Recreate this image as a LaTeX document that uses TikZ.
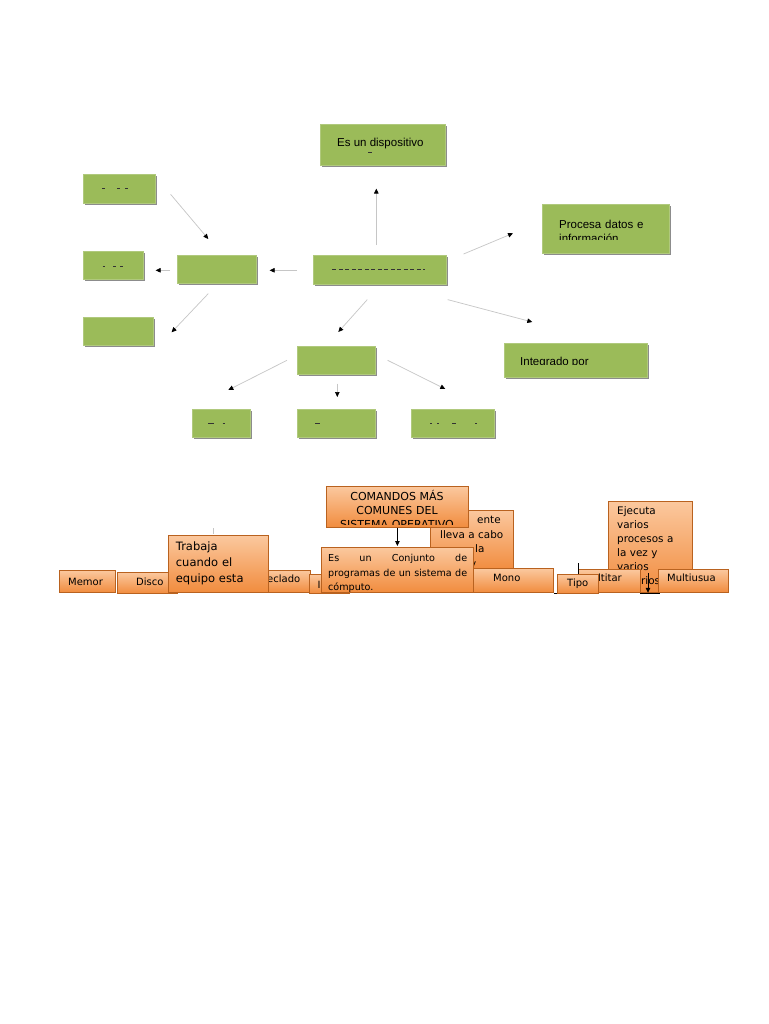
\documentclass[tikz,border=0pt]{standalone}
\usepackage{fontspec}
\setmainfont{DejaVu Sans}
\newfontfamily\arialfont{Liberation Sans}
\usetikzlibrary{shadows,arrows.meta}

\definecolor{boxgreen}{HTML}{9BBB59}
\definecolor{greenedge}{HTML}{B0C97D}
\definecolor{shadegray}{HTML}{8C8C8C}
\definecolor{linegray}{HTML}{C6C6C6}
\definecolor{orangetop}{HTML}{FBC89E}
\definecolor{orangebot}{HTML}{F18C3E}
\definecolor{orangeedge}{HTML}{B9621F}

\tikzset{
  gbox/.style={draw=greenedge,fill=boxgreen,line width=.6pt,anchor=north west,inner sep=0pt,
    drop shadow={shadow xshift=2pt,shadow yshift=-2pt,fill=shadegray,opacity=1}},
  obox/.style={draw=orangeedge,top color=orangetop,bottom color=orangebot,line width=.8pt,
    anchor=north west,inner sep=0pt,
    drop shadow={shadow xshift=1pt,shadow yshift=-1pt,fill=orangeedge!80!black,opacity=1}},
  gtxt/.style={anchor=base west,inner sep=0pt,align=left,font=\arialfont\fontsize{11.5}{13.7}\selectfont},
  otxt/.style={anchor=base west,inner sep=0pt,align=left,font=\fontsize{10}{14}\selectfont},
  grayarr/.style={draw=linegray,line width=.7pt,-{Triangle[black,length=5pt,width=4.5pt]}},
  blkarr/.style={line width=.8pt,-{Triangle[length=5pt,width=4.5pt]}},
  bits/.style={line width=1pt,black!80},
}

\begin{document}
\begin{tikzpicture}[x=1pt,y=-1pt]
  \fill[white](0,0) rectangle (768,1024);
  \useasboundingbox(0,0) rectangle (768,1024);

  \node[gbox,minimum width=125pt,minimum height=41pt](disp) at (320,124){};
  \node[gbox,minimum width=72pt,minimum height=29pt](leftA) at (83,174){};
  \node[gbox,minimum width=60pt,minimum height=28pt](leftB) at (83,251){};
  \node[gbox,minimum width=70pt,minimum height=28pt](leftC) at (83,317){};
  \node[gbox,minimum width=79pt,minimum height=28pt](hub) at (177,255){};
  \node[gbox,minimum width=133pt,minimum height=29pt](comp) at (313,255){};
  \node[gbox,minimum width=127pt,minimum height=49pt](proc) at (542,204){};
  \node[gbox,minimum width=143pt,minimum height=34pt](integ) at (504,343){};
  \node[gbox,minimum width=78pt,minimum height=28pt](down) at (297,346){};
  \node[gbox,minimum width=58pt,minimum height=28pt](downA) at (192,409){};
  \node[gbox,minimum width=78pt,minimum height=28pt](downB) at (297,409){};
  \node[gbox,minimum width=83pt,minimum height=28pt](downC) at (411,409){};

  \node[gtxt](dispT) at ([shift={(17,22.5)}]disp.north west){Es un dispositivo};
  \draw[bits]([shift={(48,29)}]disp.north west) -- ([shift={(52,29)}]disp.north west);
  \begin{scope}
    \clip(proc.north west) rectangle ([shift={(0,35.5)}]proc.north east);
    \node[gtxt,text width=100pt](procT) at ([shift={(17,24.3)}]proc.north west){Procesa datos e\\información};
  \end{scope}
  \begin{scope}
    \clip(integ.north west) rectangle ([shift={(0,21)}]integ.north east);
    \node[gtxt](integT) at ([shift={(16,22)}]integ.north west){Integrado por};
  \end{scope}
  \draw[bits,dash pattern=on 4pt off 2.5pt]([xshift=-47.5pt]comp.center) -- ([xshift=45.5pt]comp.center);
  \foreach \a/\b in {19/22,34/36.5,42/45}
    \draw[bits]([shift={(\a,15)}]leftA.north west) -- ([shift={(\b,15)}]leftA.north west);
  \foreach \a/\b in {19.7/22,30.3/33,37/40.3}
    \draw[bits]([shift={(\a,15)}]leftB.north west) -- ([shift={(\b,15)}]leftB.north west);
  \foreach \a/\b in {16.3/22,30.7/33}
    \draw[bits]([shift={(\a,14.3)}]downA.north west) -- ([shift={(\b,14.3)}]downA.north west);
  \draw[bits]([shift={(18,14.3)}]downB.north west) -- ([shift={(23,14.3)}]downB.north west);
  \foreach \a/\b in {19/21,26/28,41/45,64/66}
    \draw[bits]([shift={(\a,14.3)}]downC.north west) -- ([shift={(\b,14.3)}]downC.north west);

  \draw[grayarr]([shift={(15,5.5)}]leftA.east) -- ([shift={(-8.5,-16)}]hub.north);
  \draw[grayarr]([shift={(-7,1)}]hub.west) -- ([shift={(12,5)}]leftB.east);
  \draw[grayarr]([shift={(-16,0.5)}]comp.west) -- ([shift={(13,1)}]hub.east);
  \draw[grayarr]([shift={(-8.5,10)}]hub.south) -- ([shift={(18,1)}]leftC.east);
  \draw[grayarr]([shift={(-3.5,-10)}]comp.north) -- ([shift={(-6.5,23)}]disp.south);
  \draw[grayarr]([shift={(17,-1)}]comp.north east) -- ([shift={(-29,4.5)}]proc.west);
  \draw[grayarr]([shift={(1,15)}]comp.south east) -- ([shift={(-43.5,-21)}]integ.north);
  \draw[grayarr]([shift={(-12.5,15)}]comp.south) -- ([shift={(2,-14)}]down.north);
  \draw[grayarr]([shift={(-10,0)}]down.west) -- ([shift={(7,-19)}]downA.north);
  \draw[grayarr]([shift={(1,9)}]down.south) -- ([shift={(1,-12)}]downB.north);
  \draw[grayarr]([shift={(12,0)}]down.east) -- ([shift={(-7.5,-20)}]downC.north);

  \node[obox,minimum width=56pt,minimum height=22pt](memor) at (59,570){};
  \node[otxt](memorT) at ([shift={(9,15)}]memor.north west){Memor};
  \node[obox,minimum width=60pt,minimum height=21pt](disco) at (117,572){};
  \node[otxt](discoT) at ([shift={(19,13.5)}]disco.north west){Disco};
  \node[obox,minimum width=85pt,minimum height=22pt](tecla) at (225,570){};
  \node[otxt](teclaT) at ([shift={(42,12.3)}]tecla.north west){eclado};
  \node[obox,minimum width=40pt,minimum height=19pt](ibox) at (309,574){};
  \node[otxt](iboxT) at ([shift={(8.5,14)}]ibox.north west){I};
  \node[obox,minimum width=100pt,minimum height=57pt](trabaja) at (168,535){};
  \node[otxt,text width=90pt,font=\fontsize{11.5}{16}\selectfont](trabajaT) at ([shift={(7.7,15.7)}]trabaja.north west){Trabaja\\cuando el\\equipo esta};
  \node[obox,minimum width=83pt,minimum height=60pt](mente) at (430,510){};
  \node[otxt,text width=75pt,font=\fontsize{10.4}{14.8}\selectfont](menteT) at ([shift={(10,13.3)}]mente.north west)
    {\hspace*{37pt}ente\\lleva a cabo\\\hspace*{35pt}la\\\hspace*{30pt}y};
  \node[obox,minimum width=142pt,minimum height=41pt](comandos) at (326,486){};
  \begin{scope}
    \clip(comandos.north west) rectangle ([shift={(0,38)}]comandos.north east);
    \node[otxt,anchor=base,text width=142pt,align=center,font=\fontsize{11}{14}\selectfont](comandosT) at ([shift={(71,14.5)}]comandos.north west)
      {COMANDOS MÁS\\COMUNES DEL\\SISTEMA OPERATIVO};
  \end{scope}
  \node[obox,minimum width=152pt,minimum height=45pt](conj) at (321,547){};
  \begin{scope}
    \clip(conj.north west) rectangle (conj.south east);
    \node[otxt,text width=139pt,align=justify,font=\fontsize{9.6}{14.3}\selectfont](conjT) at ([shift={(7,14.7)}]conj.north west)
      {Es un Conjunto de\linebreak programas de un sistema de\linebreak cómputo.};
  \end{scope}
  \node[obox,minimum width=80pt,minimum height=24pt](mono) at (473,568){};
  \node[otxt](monoT) at ([shift={(20,13.7)}]mono.north west){Mono};
  \node[obox,minimum width=84pt,minimum height=91pt](ejec) at (608,501){};
  \begin{scope}
    \clip(ejec.north west) rectangle (ejec.south east);
    \node[otxt,text width=75pt,font=\fontsize{10.4}{14}\selectfont](ejecT) at ([shift={(9,13.3)}]ejec.north west)
      {Ejecuta\\varios\\procesos a\\la vez y\\varios\\\hspace*{24pt}rios};
  \end{scope}
  \node[obox,minimum width=62pt,minimum height=23pt](multi) at (578,569){};
  \node[otxt](multiT) at ([shift={(20,12)}]multi.north west){ltitar};
  \node[obox,minimum width=41pt,minimum height=19pt](tipo) at (557,574){};
  \node[otxt](tipoT) at ([shift={(10,12.7)}]tipo.north west){Tipo};
  \node[obox,minimum width=70pt,minimum height=23pt](musua) at (658,569){};
  \node[otxt](musuaT) at ([shift={(9,12)}]musua.north west){Multiusua};

  \draw[blkarr,shorten >=1pt](comandos) -- (conj);
  \draw[line width=.8pt](tipo.north) -- ([yshift=11pt]tipo.north);
  \draw[blkarr]([shift={(-10,4)}]musua.north west) -- ([shift={(-10,0)}]musua.south west);
  \draw[line width=.8pt]([shift={(-18,1)}]musua.south west) -- ([shift={(2,1)}]musua.south west);
  \draw[line width=.8pt]([shift={(0,1)}]mono.south east) -- ([shift={(3,1)}]mono.south east);
  \draw[linegray,line width=.8pt]([shift={(45,-7)}]trabaja.north west) -- ([shift={(45,-1)}]trabaja.north west);
\end{tikzpicture}
\end{document}
